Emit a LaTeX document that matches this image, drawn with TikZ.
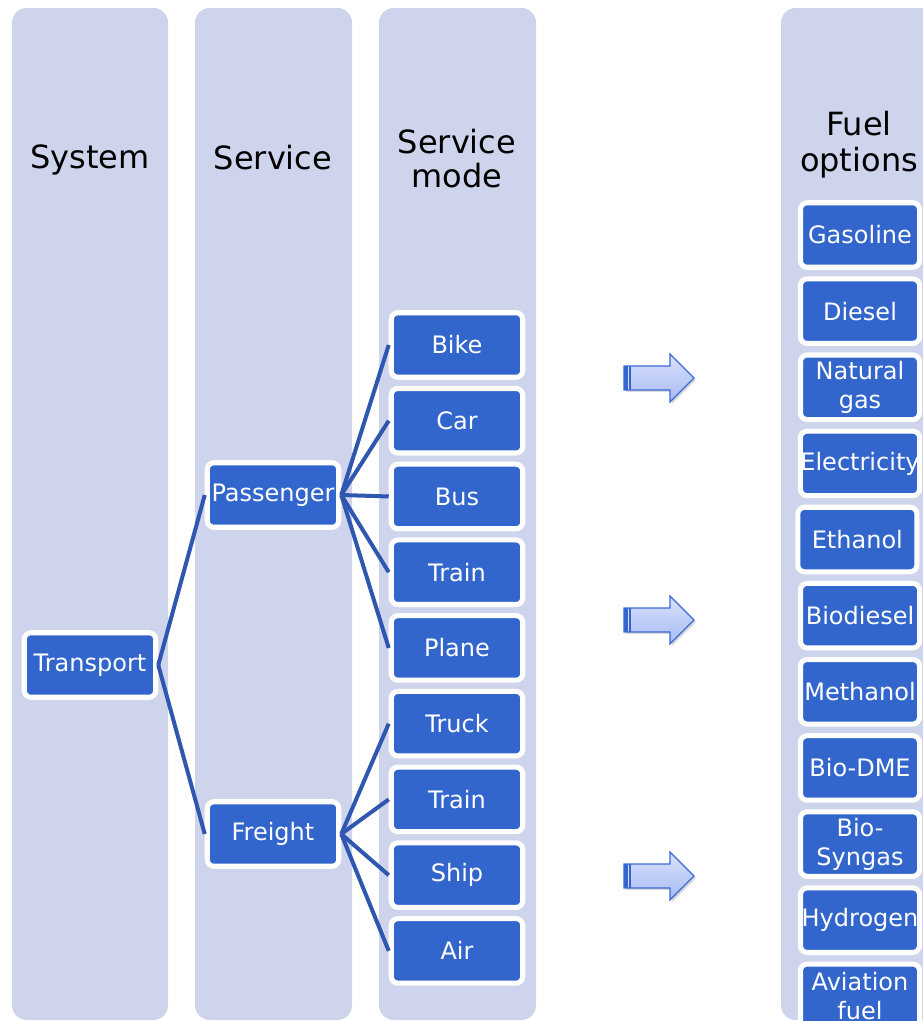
\documentclass[tikz,border=0pt]{standalone}
\usepackage{fontspec}
\setmainfont{DejaVu Sans}
\usetikzlibrary{positioning, shapes.arrows, shadows}

\definecolor{laneBg}{HTML}{CED4EB}
\definecolor{boxBlue}{HTML}{3366CC}
\definecolor{linkBlue}{HTML}{2F57B0}
\definecolor{arrowEdge}{HTML}{3D68D6}
\definecolor{arrowTop}{HTML}{D8E0FC}
\definecolor{arrowBot}{HTML}{A9BBF3}

\begin{document}
\begin{tikzpicture}[
    % styles
    x=0.75pt, y=-0.75pt,
    lane/.style={fill=laneBg, rounded corners=11pt},
    laneTitle/.style={font=\fontsize{24}{26}\selectfont, align=center, text=black},
    modebox/.style={draw=white, line width=3.8pt, fill=boxBlue, rounded corners=5pt, minimum width=98.6pt, minimum height=48.4pt, text=white, font=\fontsize{18}{21.75}\selectfont, align=center, inner sep=0pt},
    fuelbox/.style={modebox, minimum width=89.3pt, drop shadow={opacity=0.25, shadow xshift=1.5pt, shadow yshift=-1.5pt}},
    link/.style={draw=linkBlue, line width=3pt},
    blockarrow/.style={single arrow, draw=arrowEdge, line width=0.9pt, top color=arrowTop, bottom color=arrowBot, minimum height=52.5pt, minimum width=36pt, single arrow head extend=9pt, inner xsep=0pt, inner ysep=8.5pt, drop shadow={opacity=0.3, shadow xshift=1.5pt, shadow yshift=-1.5pt}, path picture={\fill[boxBlue] (path picture bounding box.north west) rectangle ([xshift=5pt]path picture bounding box.south west); \draw[arrowTop, line width=0.7pt] ([xshift=3.5pt]path picture bounding box.north west) -- ([xshift=3.5pt]path picture bounding box.south west);}}
]
    \useasboundingbox (0,0) rectangle (922,1021);

    % lanes
    \fill[lane] (12,8) rectangle (168,1020);
    \fill[lane] (195,8) rectangle (352,1020);
    \fill[lane] (379,8) rectangle (536,1020);
    \fill[lane] (781,8) rectangle (1000,1020);

    % lane titles
    \node[laneTitle] (tSystem) at (90,160) {System};
    \node[laneTitle] (tService) at (273,158) {Service};
    \node[laneTitle, font=\fontsize{24}{25.5}\selectfont] (tMode) at (457,159) {Service\\mode};
    \node[laneTitle, font=\fontsize{24}{27}\selectfont] (tFuel) at (859,145) {Fuel\\options};

    % system / service
    \node[modebox] (transport) at (90,665) {Transport};
    \node[modebox] (passenger) at (273,495) {Passenger};
    \node[modebox] (freight) at (273,834) {Freight};

    % service modes
    \node[modebox] (bike) at (457,345) {Bike};
    \node[modebox] (car) [below=4.6pt of bike] {Car};
    \node[modebox] (bus) [below=4.6pt of car] {Bus};
    \node[modebox] (trainP) [below=4.6pt of bus] {Train};
    \node[modebox] (plane) [below=4.6pt of trainP] {Plane};
    \node[modebox] (truck) [below=4.6pt of plane] {Truck};
    \node[modebox] (trainF) [below=4.6pt of truck] {Train};
    \node[modebox] (ship) [below=4.6pt of trainF] {Ship};
    \node[modebox] (air) [below=4.6pt of ship] {Air};

    % fuel options
    \node[fuelbox] (gasoline) at (860,235) {Gasoline};
    \node[fuelbox] (diesel) [below=4.9pt of gasoline] {Diesel};
    \node[fuelbox] (natgas) [below=4.9pt of diesel] {Natural\\gas};
    \node[fuelbox] (electricity) [below=4.9pt of natgas] {Electricity};
    \node[fuelbox] (ethanol) [below=4.9pt of electricity, xshift=-2pt] {Ethanol};
    \node[fuelbox] (biodiesel) [below=4.9pt of ethanol, xshift=2pt] {Biodiesel};
    \node[fuelbox] (methanol) [below=4.9pt of biodiesel] {Methanol};
    \node[fuelbox] (biodme) [below=4.9pt of methanol] {Bio-DME};
    \node[fuelbox] (syngas) [below=4.9pt of biodme] {Bio-\\Syngas};
    \node[fuelbox] (hydrogen) [below=4.9pt of syngas] {Hydrogen};
    \node[fuelbox] (aviation) [below=4.9pt of hydrogen] {Aviation\\fuel};

    % block arrows
    \node[blockarrow] (arrTop) at (653,378) {};
    \node[blockarrow] (arrMid) at (653,620) {};
    \node[blockarrow] (arrBot) at (653,876) {};

    % links
    \draw[link] (transport.east) -- (passenger.west);
    \draw[link] (transport.east) -- (freight.west);
    \draw[link] (passenger.east) -- (bike.west);
    \draw[link] (passenger.east) -- (car.west);
    \draw[link] (passenger.east) -- (bus.west);
    \draw[link] (passenger.east) -- (trainP.west);
    \draw[link] (passenger.east) -- (plane.west);
    \draw[link] (freight.east) -- (truck.west);
    \draw[link] (freight.east) -- (trainF.west);
    \draw[link] (freight.east) -- (ship.west);
    \draw[link] (freight.east) -- (air.west);

\end{tikzpicture}
\end{document}
